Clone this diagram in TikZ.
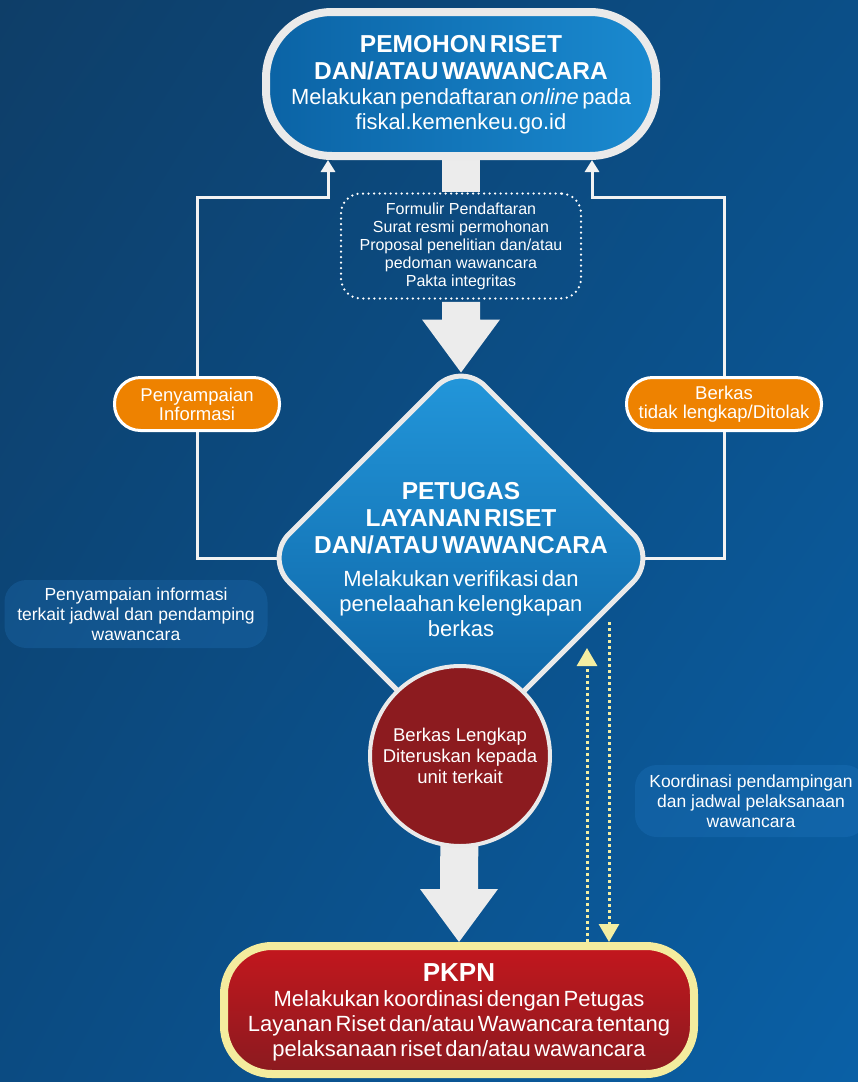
\documentclass[tikz,border=0pt]{standalone}
\usepackage{fontspec}
\setmainfont{Liberation Sans}
\usetikzlibrary{shapes.geometric,arrows.meta,calc,shadings}
\pgfdeclarelayer{bg}
\pgfsetlayers{bg,main}
\definecolor{bgTL}{HTML}{0E3E68}
\definecolor{bgTR}{HTML}{0B4F88}
\definecolor{bgBL}{HTML}{0B4B82}
\definecolor{bgBR}{HTML}{0A60A6}
\definecolor{linec}{HTML}{F2F2F2}
\definecolor{arrowc}{HTML}{ECECEC}
\definecolor{bordc}{HTML}{EAEAEA}
\definecolor{orangec}{HTML}{EE8200}
\definecolor{yel}{HTML}{F4EEA2}
\definecolor{pkpnbord}{HTML}{F4EC9E}
\definecolor{redtop}{HTML}{C3171E}
\definecolor{redbot}{HTML}{8A1A1F}
\definecolor{circred}{HTML}{8C1B1F}
\definecolor{topL}{HTML}{0B63A5}
\definecolor{topR}{HTML}{1A8AD0}
\definecolor{diaT}{HTML}{2398DC}
\definecolor{diaB}{HTML}{0A5C9C}
\definecolor{infoc}{HTML}{2A84D2}
\begin{document}
\begin{tikzpicture}[x=1pt,y=-1pt,
  every node/.style={text=white},
  wline/.style={draw=linec, line width=3pt},
  whead/.style={-{Triangle[width=14pt,length=12pt]}},
  orangebox/.style={rounded corners=26pt, fill=orangec, draw=white, line width=3pt,
    minimum height=53pt, align=center, inner sep=0pt,
    font=\fontsize{18.5}{19}\selectfont},
  infobox/.style={rounded corners=22pt, fill=infoc, fill opacity=0.22, text opacity=1,
    align=center, inner sep=0pt, font=\fontsize{17.5}{20}\selectfont},
  ydot/.style={draw=yel, line width=3pt, dash pattern=on 3pt off 3pt},
  yhead/.style={-{Triangle[width=20pt,length=18pt]}}
]
\useasboundingbox (0,0) rectangle (858,1082);
\begin{pgfonlayer}{bg}
\shade[upper left=bgTL, upper right=bgTR, lower left=bgBL, lower right=bgBR] (0,0) rectangle (858,1082);
\end{pgfonlayer}

% top node
\node[rounded corners=66pt, draw=bordc, line width=8pt, left color=topL, right color=topR,
  minimum width=390pt, minimum height=144pt, inner sep=0pt] (top) at (461,84) {};
\node[text width=390pt, align=center, inner sep=0pt] (toptext) at (461,85)
  {{\fontsize{24.5}{27}\selectfont\bfseries PEMOHON RISET\\DAN/ATAU WAWANCARA\par}
   {\fontsize{21.9}{25}\selectfont Melakukan pendaftaran \textit{online} pada\\fiskal.kemenkeu.go.id\par}};

% dotted document box
\node[draw=white, line width=2.5pt, dash pattern=on 0pt off 5.5pt, line cap=round,
  rounded corners=20pt, minimum width=240pt, minimum height=105pt, align=center,
  inner sep=0pt, font=\fontsize{16}{18}\selectfont] (dots) at (461,246)
  {Formulir Pendaftaran\\Surat resmi permohonan\\Proposal penelitian dan/atau\\pedoman wawancara\\Pakta integritas};

% diamond
\node[diamond, aspect=1, rounded corners=34pt, draw=bordc, line width=5pt,
  top color=diaT, bottom color=diaB, minimum width=394pt, minimum height=394pt,
  inner sep=0pt] (dia) at (461,558) {};
\node[text width=340pt, align=center, inner sep=0pt] (diatext) at (461,560)
  {{\fontsize{24.5}{27}\selectfont\bfseries PETUGAS\\LAYANAN RISET\\DAN/ATAU WAWANCARA\par}
   \vspace{8pt}
   {\fontsize{22}{25}\selectfont Melakukan verifikasi dan\\penelaahan kelengkapan\\berkas\par}};
\coordinate (diatop) at ($(dia.north)+(0,14)$);

% circle
\node[circle, draw=bordc, line width=4pt, fill=circred, minimum size=180pt,
  align=center, inner sep=0pt, font=\fontsize{18.5}{21}\selectfont] (circ) at (460,756)
  {Berkas Lengkap\\Diteruskan kepada\\unit terkait};

% orange boxes
\node[orangebox, minimum width=165pt] (pen) at (197,404) {Penyampaian\\Informasi};
\node[orangebox, minimum width=195pt] (ber) at (724,404) {Berkas\\tidak lengkap/Ditolak};

% info boxes
\node[infobox, minimum width=263pt, minimum height=68pt] (infoL) at (136,614)
  {Penyampaian informasi\\terkait jadwal dan pendamping\\wawancara};
\node[infobox, minimum width=232pt, minimum height=72pt] (infoR) at (751,801)
  {Koordinasi pendampingan\\dan jadwal pelaksanaan\\wawancara};

% PKPN
\node[rounded corners=48pt, draw=pkpnbord, line width=8pt, top color=redtop, bottom color=redbot,
  minimum width=470pt, minimum height=128pt, inner sep=0pt] (pkpn) at (459,1010) {};
\node[text width=460pt, align=center, inner sep=0pt] (pkpntext) at (459,1012)
  {{\fontsize{26}{30}\selectfont\bfseries PKPN\par}
   {\fontsize{22}{25}\selectfont Melakukan koordinasi dengan Petugas\\Layanan Riset dan/atau Wawancara tentang\\pelaksanaan riset dan/atau wawancara\par}};

\coordinate (lk) at (328,197);
\coordinate (rk) at (592,197);
\coordinate (yup) at (587,648);
\coordinate (ydn) at (609,622);

\begin{pgfonlayer}{bg}
% connectors
\draw[wline, whead] (dia.center) -| (pen.center) |- (lk) -- (lk |- top.south);
\draw[wline, whead] (dia.center) -| (ber.center) |- (rk) -- (rk |- top.south);
% big arrow top
\fill[arrowc] ($(top.south)+(-19,-10)$) rectangle ($(dots.north)+(19,0)$);
\fill[arrowc] ($(dots.south)+(-19,2)$) -- ($(diatop)+(-19,-53)$) -- ($(diatop)+(-39,-53)$)
  -- (diatop) -- ($(diatop)+(39,-53)$) -- ($(diatop)+(19,-53)$) -- ($(dots.south)+(19,2)$) -- cycle;
% big arrow bottom
\fill[arrowc] (circ.center) ++(-19,0) -- ($(pkpn.north)+(-19,-53)$) -- ($(pkpn.north)+(-39,-53)$)
  -- (pkpn.north) -- ($(pkpn.north)+(39,-53)$) -- ($(pkpn.north)+(19,-53)$) -- ($(circ.center)+(19,0)$) -- cycle;
% yellow dotted arrows
\draw[ydot, yhead] (yup |- pkpn.north) -- (yup);
\draw[ydot, yhead] (ydn) -- (ydn |- pkpn.north);
\end{pgfonlayer}
\end{tikzpicture}
\end{document}
